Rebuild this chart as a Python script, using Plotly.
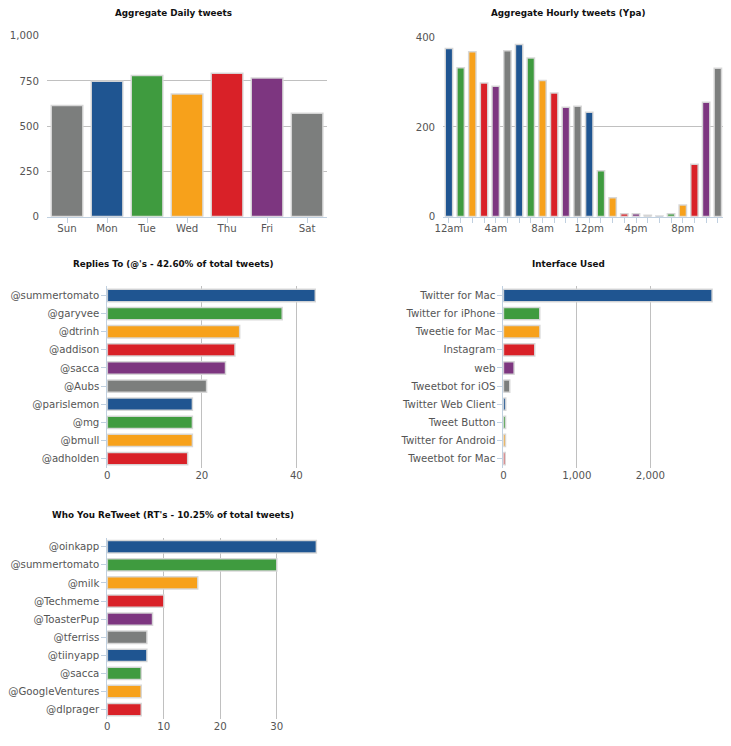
import plotly.graph_objects as go

W, H = 725, 740
# screen placement of the figure (measured): image = S * (fig + 8) + C
SX, CX = 0.9846, 10.1
SY, CY = 0.981, 6.15

days = ["Sun", "Mon", "Tue", "Wed", "Thu", "Fri", "Sat"]
daily_counts = [615, 748, 781, 678, 793, 767, 572]

hours = list(range(24))
hourly_counts = [375, 332, 368, 298, 291, 370, 384, 354, 304, 276, 244, 246,
                 233, 102, 42, 6, 6, 3, 1, 6, 26, 117, 255, 331]
hour_tick_vals = [0, 4, 8, 12, 16, 20]
hour_tick_text = ["12am", "4am", "8am", "12pm", "4pm", "8pm"]

reply_users = ["@summertomato", "@garyvee", "@dtrinh", "@addison", "@sacca",
               "@Aubs", "@parislemon", "@mg", "@bmull", "@adholden"]
reply_counts = [44, 37, 28, 27, 25, 21, 18, 18, 18, 17]

interfaces = ["Twitter for Mac", "Twitter for iPhone", "Tweetie for Mac", "Instagram",
              "web", "Tweetbot for iOS", "Twitter Web Client", "Tweet Button",
              "Twitter for Android", "Tweetbot for Mac"]
interface_counts = [2839, 494, 496, 426, 145, 86, 32, 30, 28, 25]

rt_users = ["@oinkapp", "@summertomato", "@milk", "@Techmeme", "@ToasterPup",
            "@tferriss", "@tiinyapp", "@sacca", "@GoogleVentures", "@dlprager"]
rt_counts = [37, 30, 16, 10, 8, 7, 7, 6, 6, 6]

titles = ["Aggregate Daily tweets", "Aggregate Hourly tweets (Ypa)",
          "Replies To (@'s - 42.60% of total tweets)", "Interface Used",
          "Who You ReTweet (RT's - 10.25% of total tweets)"]

palette = ["#1f5591", "#3f9b3f", "#f7a11b", "#d92128", "#7d3680", "#7c7e7d"]

FONT = "DejaVu Sans"
TICKC = "#555555"
GRID = "#c0c0c0"
AXC = "#c0d0e0"


def colors_from(start, n):
    return [palette[(start + i) % len(palette)] for i in range(n)]


def clamp(v):
    return min(1.0, max(0.0, v))


def fx(t):
    return clamp(((t - CX) / SX - 8) / W)


def fy(t):
    return clamp(1 - ((t - CY) / SY - 8) / H)


def xd(a, b):
    return [fx(a), fx(b)]


def yd(top, bottom):
    return [fy(bottom), fy(top)]


fig = go.Figure()
line = dict(color="rgba(215,215,215,0.95)", width=1.5)

fig.add_trace(go.Bar(x=days, y=daily_counts, width=0.79,
                     marker=dict(color=colors_from(5, 7), line=line),
                     xaxis="x", yaxis="y", showlegend=False))
fig.add_trace(go.Bar(x=hours, y=hourly_counts, width=0.63,
                     marker=dict(color=colors_from(0, 24), line=line),
                     xaxis="x2", yaxis="y2", showlegend=False))
fig.add_trace(go.Bar(y=reply_users, x=reply_counts, orientation="h", width=0.68,
                     marker=dict(color=colors_from(0, 10), line=line),
                     xaxis="x3", yaxis="y3", showlegend=False))
fig.add_trace(go.Bar(y=interfaces, x=interface_counts, orientation="h", width=0.68,
                     marker=dict(color=colors_from(0, 10), line=line),
                     xaxis="x4", yaxis="y4", showlegend=False))
fig.add_trace(go.Bar(y=rt_users, x=rt_counts, orientation="h", width=0.68,
                     marker=dict(color=colors_from(0, 10), line=line),
                     xaxis="x5", yaxis="y5", showlegend=False))

tickfont = dict(family=FONT, size=10.2, color=TICKC)

cat_axis = dict(showgrid=False, showline=True, linecolor=AXC, linewidth=1,
                ticks="outside", ticklen=5, tickcolor=AXC, tickfont=tickfont,
                fixedrange=True)
val_axis = dict(showgrid=True, gridcolor=GRID, gridwidth=1, zeroline=False,
                showline=False, ticks="", tickfont=tickfont, separatethousands=True,
                tickformat=",d", fixedrange=True)

fig.update_layout(
    width=W, height=H, margin=dict(l=0, r=0, t=0, b=0),
    paper_bgcolor="white", plot_bgcolor="white",
    xaxis=dict(cat_axis, domain=xd(46, 326), anchor="y", ticklabelstandoff=-3),
    yaxis=dict(val_axis, domain=yd(36.7, 216.7), anchor="x", range=[0, 1000],
               tickvals=[0, 250, 500, 750, 1000], ticklabelstandoff=7),
    xaxis2=dict(cat_axis, domain=xd(442, 722.5), anchor="y2", range=[-0.5, 23.5],
                tickvals=hour_tick_vals, ticktext=hour_tick_text, ticklabelstandoff=-3,
                minor=dict(ticks="outside", ticklen=5, tickcolor=AXC, dtick=1, tick0=0)),
    yaxis2=dict(val_axis, domain=yd(38.3, 216.7), anchor="x2", range=[0, 400],
                tickvals=[0, 200, 400], ticklabelstandoff=7),
    xaxis3=dict(val_axis, domain=xd(106.3, 326), anchor="y3", range=[0, 46.5],
                tickvals=[0, 20, 40]),
    yaxis3=dict(cat_axis, domain=yd(286.3, 466.7), anchor="x3", autorange="reversed"),
    xaxis4=dict(val_axis, domain=xd(502.3, 722), anchor="y4", range=[0, 2990],
                tickvals=[0, 1000, 2000]),
    yaxis4=dict(cat_axis, domain=yd(286.3, 466.7), anchor="x4", autorange="reversed"),
    xaxis5=dict(val_axis, domain=xd(106.3, 326), anchor="y5", range=[0, 38.9],
                tickvals=[0, 10, 20, 30]),
    yaxis5=dict(cat_axis, domain=yd(536.5, 716.7), anchor="x5", autorange="reversed"),
)

title_pos = [(172, 14), (567, 14), (172, 264), (567, 264), (172, 514)]
for t, (x, y) in zip(titles, title_pos):
    fig.add_annotation(text="<b>" + t + "</b>", x=fx(x), y=fy(y),
                       xref="paper", yref="paper",
                       showarrow=False, xanchor="center", yanchor="middle",
                       font=dict(family=FONT, size=8.8, color="#111111"))

fig.write_html("out.html")
